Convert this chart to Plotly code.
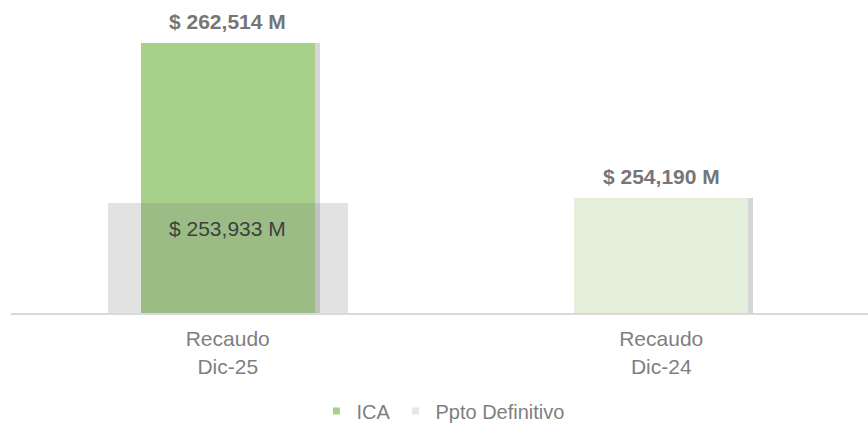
import plotly.graph_objects as go

# ---- data ----
categories = ["Recaudo<br>Dic-25", "Recaudo<br>Dic-24"]
ica_values = [262514, 254190]
ppto_categories = ["Recaudo<br>Dic-25"]
ppto_values = [253933]
series_names = ["ICA", "Ppto Definitivo"]

FONT = "Liberation Sans, Arial, sans-serif"
ICA_COLORS = ["#a7d08b", "#e3efdb"]
PPTO_COLOR = "rgba(112,112,112,0.20)"
ICA_W = 0.402
PPTO_W = 0.554
SHADOW_SHIFT = 5 / 433.5

fig = go.Figure()

# soft shadow to the right of the ICA bars
fig.add_trace(go.Bar(
    x=categories, y=ica_values,
    width=ICA_W, offset=-ICA_W / 2 + SHADOW_SHIFT,
    marker=dict(color="rgba(0,0,0,0.16)", line=dict(width=0)),
    showlegend=False, hoverinfo="skip",
))

# ICA bars
fig.add_trace(go.Bar(
    x=categories, y=ica_values, name=series_names[0],
    width=ICA_W, offset=-ICA_W / 2,
    marker=dict(color=ICA_COLORS, line=dict(width=0)),
    showlegend=False,
))

# Ppto Definitivo bar (translucent, wider, in front)
fig.add_trace(go.Bar(
    x=ppto_categories, y=ppto_values, name=series_names[1],
    width=PPTO_W, offset=-PPTO_W / 2,
    marker=dict(color=PPTO_COLOR, line=dict(width=0)),
    showlegend=False,
))

# legend entries (small squares)
fig.add_trace(go.Scatter(x=[None], y=[None], mode="markers", name=series_names[0],
                         marker=dict(symbol="square", size=7, color="#a7d08b")))
fig.add_trace(go.Scatter(x=[None], y=[None], mode="markers", name=series_names[1],
                         marker=dict(symbol="square", size=7, color="#e6e6e6")))

# value labels
for c, v in zip(categories, ica_values):
    fig.add_annotation(x=c, y=v, text=f"<b>$ {v:,} M</b>", showarrow=False,
                       yanchor="bottom", yshift=8,
                       font=dict(family=FONT, size=21, color="#767676"))
for c, v in zip(ppto_categories, ppto_values):
    fig.add_annotation(x=c, y=v, text=f"$ {v:,} M", showarrow=False,
                       yanchor="top", yshift=-12,
                       font=dict(family=FONT, size=21, color="#404040"))

fig.update_layout(
    width=868, height=423,
    margin=dict(l=11, r=0, t=20, b=110, autoexpand=False),
    paper_bgcolor="white", plot_bgcolor="white",
    barmode="overlay",
    bargap=0,
    font=dict(family=FONT, size=21, color="#7f7f7f"),
    legend=dict(orientation="h", x=0.504, xanchor="center", y=-0.3345, yanchor="middle",
                font=dict(family=FONT, size=20, color="#7f7f7f"),
                itemwidth=30, traceorder="normal", bgcolor="rgba(0,0,0,0)"),
    xaxis=dict(type="category", range=[-0.5, 1.477], showgrid=False, zeroline=False,
               showline=True, linecolor="#d9d9d9", linewidth=2, ticks="",
               tickfont=dict(family=FONT, size=21, color="#7f7f7f"),
               ticklabelstandoff=6),
    yaxis=dict(range=[248000, 263735], visible=False, showgrid=False, zeroline=False),
)

fig.write_html("out.html", config={"displayModeBar": False},
               post_script="document.body.style.margin='0';")
